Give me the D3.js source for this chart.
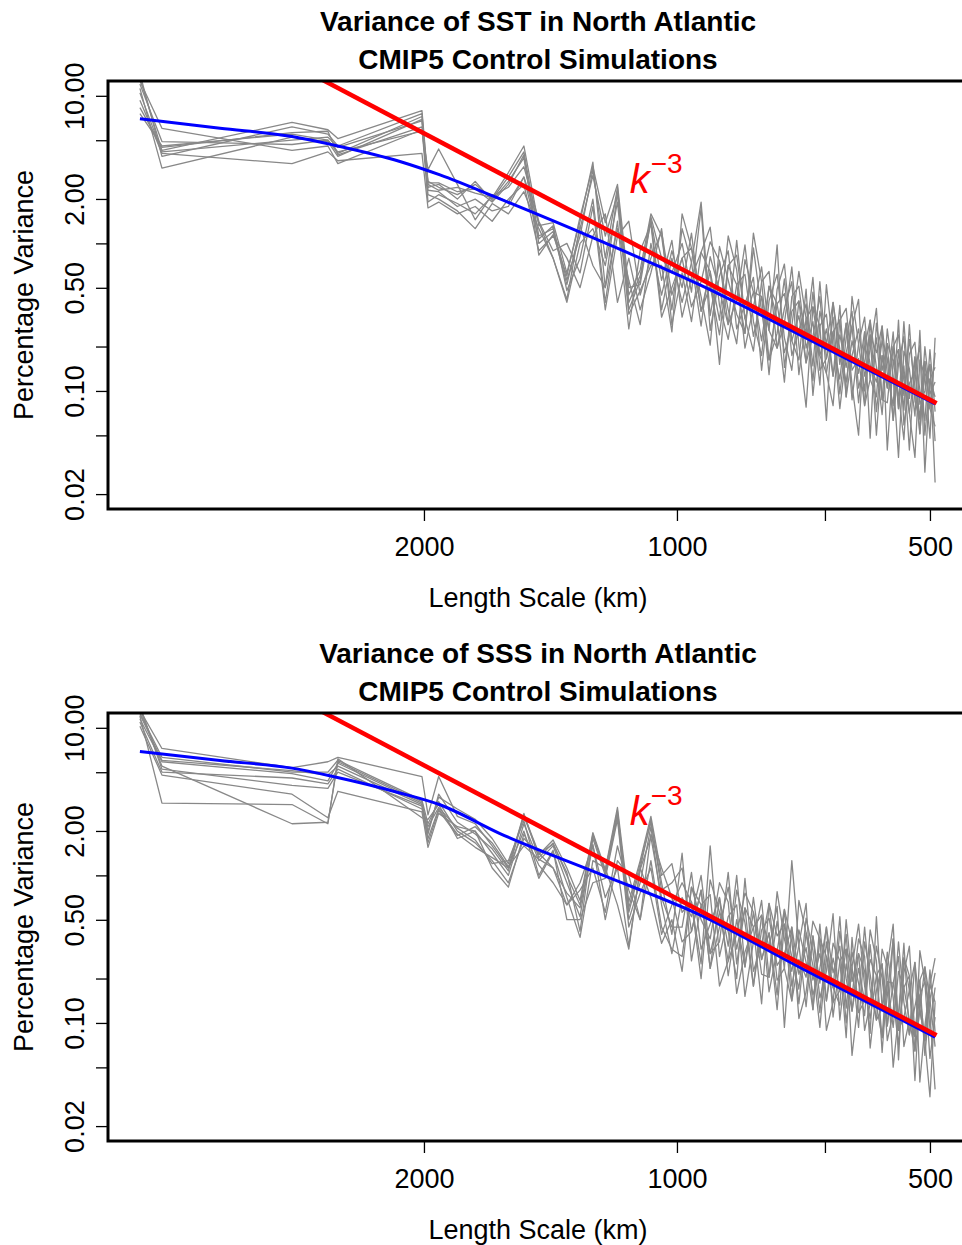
<!DOCTYPE html>
<html>
<head>
<meta charset="utf-8">
<script src="https://cdn.jsdelivr.net/npm/d3@7"></script>
<style>
  html, body { margin: 0; padding: 0; background: #ffffff; }
  svg { display: block; }
  text { font-family: "Liberation Sans", Arial, Helvetica, sans-serif; fill: #000; }
</style>
</head>
<body>
<svg id="chart" width="962" height="1245"></svg>
<script>
// ---------------- DATA ----------------
// Length scale (km) of each spectral estimate (shared by all model curves)
const gridLength = [4355,4100,2871,2602,2532,2011,1978,
  1921,1825,1738,1659,1587,1521,1460,1404,1352,1304,1259,1217,1177,1141,1106,1074,1043,1014,
  986,961,936,913,890,869,849,830,811,793,777,760,745,730,716,702,689,676,664,652,640,629,619,
  608,598,589,579,570,562,553,545,537,529,521,514,507,500,493];

// log10(percentage variance) for each CMIP5 model, SST panel
const sstLog10Var = [
 [1.12,0.63,0.82,0.77,0.71,0.90,0.42, 0.38,0.33,0.40,0.30,0.45,0.62,0.05,0.10,-0.25,0.05,0.50,-0.10,0.38,-0.45,-0.25,0.18,-0.10,-0.20,
  0.00,-0.33,0.24,-0.59,-0.22,-0.05,-0.58,-0.41,-0.23,-0.86,-0.39,-0.21,-0.64,-0.86,-0.39,-0.61,-0.23,-0.86,-0.78,-0.50,-1.02,-0.64,-0.46,-0.98,-0.80,-0.62,-1.30,-0.76,-0.98,-0.60,-1.12,-0.83,-1.40,-0.77,-0.99,-1.20,-0.72,-1.14],
 [1.08,0.69,0.67,0.70,0.61,0.86,0.33, 0.30,0.22,0.10,0.27,0.20,0.35,0.10,-0.10,-0.38,0.12,-0.15,-0.30,0.10,-0.25,-0.55,0.00,-0.35,-0.05,
  -0.30,0.07,-0.46,-0.19,-0.82,-0.15,-0.28,-0.61,-0.03,-0.46,-0.79,-0.41,-0.34,-0.66,-0.79,-0.31,-1.03,-0.56,-0.48,-0.90,-0.62,-0.84,-0.56,-0.38,-1.10,-0.92,-0.64,-1.06,-0.58,-0.90,-1.45,-0.73,-0.85,-1.17,-0.59,-1.30,-0.92,-0.84],
 [1.15,0.59,0.79,0.74,0.66,0.88,0.40, 0.36,0.38,0.34,0.31,0.48,0.66,0.12,0.14,-0.20,0.15,0.55,-0.30,0.35,-0.35,-0.18,0.20,0.05,-0.45,
  0.10,-0.13,-0.56,-0.09,-0.32,-0.55,0.02,-0.51,-0.73,-0.26,-0.19,-0.71,-0.54,-0.16,-0.69,-1.11,-0.43,-0.56,-1.20,-0.40,-0.72,-0.94,-0.66,-0.88,-0.60,-1.32,-0.54,-0.86,-0.68,-1.20,-0.82,-0.63,-1.15,-1.45,-0.79,-0.90,-1.32,-0.64],
 [0.97,0.61,0.54,0.62,0.56,0.61,0.24, 0.28,0.20,0.25,0.15,0.30,0.40,-0.05,0.05,-0.10,-0.30,0.05,0.20,-0.40,-0.10,-0.45,-0.20,0.10,-0.55,
  -0.20,-0.53,-0.06,0.11,-0.42,-0.65,-0.28,-0.21,-0.63,-0.36,-0.59,-0.01,-0.84,-0.46,-0.39,-0.81,-0.63,-0.36,-0.88,-1.10,-0.52,-0.44,-0.86,-0.78,-1.10,-0.62,-0.74,-0.56,-1.40,-0.80,-0.72,-1.03,-0.65,-0.97,-1.29,-0.80,-1.12,-1.24],
 [1.05,0.51,0.72,0.69,0.59,0.84,0.38, 0.40,0.30,0.42,0.29,0.42,0.58,0.00,0.08,-0.28,0.10,0.46,0.05,0.33,-0.40,-0.22,0.15,-0.45,-0.10,
  -0.40,-0.13,0.28,-0.49,-0.12,-0.45,-0.68,-0.11,-0.33,-0.66,-0.29,-0.51,-0.94,-0.36,-0.29,-0.71,-0.53,-0.96,-0.28,-0.70,-0.92,-0.54,-1.06,-0.68,-0.50,-0.92,-1.04,-0.56,-0.88,-1.10,-0.52,-1.23,-0.95,-0.87,-1.19,-0.70,-1.02,-0.94],
 [0.92,0.65,0.75,0.76,0.60,0.79,0.28, 0.33,0.27,0.20,0.32,0.38,0.52,0.15,-0.05,0.00,-0.20,0.25,-0.45,0.05,0.15,-0.35,-0.10,0.08,-0.35,
  -0.10,-0.03,-0.36,-0.69,-0.02,-0.25,-0.48,-0.61,0.07,-0.26,-0.79,-0.61,-0.24,-0.76,-0.59,-0.41,-0.83,-0.26,-0.78,-0.60,-1.12,-0.74,-0.56,-1.08,-0.70,-0.52,-0.84,-1.16,-0.68,-0.80,-1.02,-1.33,-0.75,-0.67,-1.09,-1.00,-0.82,-1.62],
 [1.10,0.78,0.63,0.66,0.54,0.77,0.41, 0.41,0.35,0.37,0.28,0.40,0.60,-0.08,0.06,-0.22,0.18,0.52,0.14,0.40,-0.30,-0.28,0.16,-0.25,0.02,
  -0.50,-0.23,-0.06,-0.19,-0.52,0.05,-0.18,-0.71,-0.43,-0.16,-0.59,-0.71,-0.44,-0.26,-0.89,-0.51,-0.43,-0.76,-0.58,-0.90,-0.42,-1.04,-0.76,-0.58,-0.90,-0.72,-0.44,-1.06,-1.08,-0.70,-0.62,-0.93,-1.15,-0.87,-0.69,-1.55,-0.92,-1.04],
 [1.02,0.62,0.70,0.72,0.65,0.83,0.36, 0.35,0.25,0.30,0.22,0.25,0.45,0.03,0.12,-0.32,-0.10,0.30,-0.40,0.15,-0.58,-0.05,0.13,-0.50,-0.30,
  -0.10,-0.43,-0.26,0.01,-0.12,-0.55,-0.38,-0.01,-0.53,-0.76,-0.29,-0.41,-0.74,-0.56,-0.19,-0.51,-0.93,-0.46,-0.68,-0.40,-0.82,-0.54,-0.96,-1.30,-0.60,-0.82,-0.94,-0.66,-0.78,-1.20,-0.72,-1.13,-0.55,-1.07,-1.19,-0.90,-0.82,-1.34],
 [0.88,0.66,0.74,0.70,0.62,0.76,0.50, 0.64,0.40,0.16,0.33,0.28,0.45,0.14,-0.10,-0.40,0.00,0.10,-0.15,0.28,-0.48,-0.32,-0.15,-0.15,-0.60,
  0.20,-0.03,-0.46,-0.29,-0.62,-0.15,-0.08,-0.51,-0.33,-0.36,-0.89,-0.31,-0.14,-0.66,-0.49,-0.81,-0.33,-0.76,-0.88,-0.60,-0.52,-1.04,-0.36,-0.68,-1.00,-0.52,-1.14,-0.76,-0.98,-0.70,-1.12,-0.53,-1.05,-0.77,-1.29,-0.80,-1.12,-0.74]
];

// log10(percentage variance) for each CMIP5 model, SSS panel
const sssLog10Var = [
 [1.12,0.86,0.73,0.77,0.80,0.67,0.41, 0.67,0.40,0.35,0.20,0.05,0.42,0.12,0.22,0.00,-0.20,0.28,0.02,0.44,-0.25,0.05,0.38,-0.10,-0.05,
  0.05,-0.38,-0.10,-0.63,-0.15,-0.48,0.00,-0.62,-0.25,-0.57,-0.39,-0.81,-0.23,-0.75,-0.47,-0.19,-0.91,-0.43,-0.55,-0.86,-0.78,-0.40,-0.92,-0.63,-0.85,-0.37,-0.58,-1.20,-0.72,-0.73,-0.95,-0.56,-0.68,-1.19,-0.91,-1.12,-0.74,-0.56],
 [1.10,0.80,0.70,0.70,0.78,0.51,0.35, 0.50,0.30,0.22,0.10,-0.05,0.25,0.15,0.05,-0.20,-0.10,0.05,-0.25,0.20,-0.10,-0.30,0.10,-0.35,-0.50,
  -0.55,-0.08,-0.20,-0.53,-0.45,0.02,-0.60,-0.22,-0.75,-0.37,-0.29,-0.61,-0.53,-0.35,-0.97,-0.79,-0.41,-0.73,-0.35,-0.66,-0.48,-1.00,-0.62,-0.33,-0.75,-0.97,-0.68,-0.60,-1.12,-0.93,-0.45,-0.86,-1.08,-0.59,-0.91,-1.12,-1.50,-0.86],
 [1.06,0.77,0.69,0.64,0.76,0.49,0.30, 0.53,0.45,0.38,0.25,0.08,0.40,0.14,0.24,0.05,-0.17,0.29,0.04,0.46,-0.18,0.10,0.40,0.00,0.08,
  -0.25,-0.18,-0.70,-0.03,-0.25,-0.58,-0.40,-0.12,-0.25,-0.67,-0.69,-0.11,-0.43,-0.65,-0.37,-0.59,-0.91,-0.33,-0.85,-0.56,-0.78,-0.50,-0.62,-1.03,-0.45,-0.67,-0.98,-0.90,-0.52,-0.83,-1.15,-0.66,-0.48,-1.09,-0.81,-0.72,-0.94,-1.45],
 [1.15,0.72,0.61,0.59,0.70,0.47,0.25, 0.45,0.28,0.19,0.12,0.05,0.30,-0.02,0.16,-0.15,-0.42,0.10,0.05,-0.20,-0.50,0.05,-0.15,-0.46,-0.30,
  -0.65,-0.08,-0.30,-0.43,-0.05,-0.18,-0.80,-0.52,-0.35,-0.27,-0.79,-0.51,-0.23,-0.45,-0.87,-0.39,-0.61,-1.03,-0.55,-0.76,-0.28,-0.90,-0.52,-0.73,-0.95,-0.47,-0.88,-1.10,-0.62,-0.33,-1.05,-0.96,-0.78,-0.59,-1.40,-1.02,-0.74,-0.86],
 [1.01,0.68,0.55,0.39,0.57,0.43,0.19, 0.42,0.33,0.30,0.15,0.00,0.35,0.10,0.20,-0.05,-0.28,0.25,0.00,0.40,-0.30,-0.05,0.33,-0.20,-0.53,
  -0.15,-0.28,0.00,-0.53,-0.25,-0.38,-0.70,-0.02,-0.65,-0.47,-0.19,-0.71,-0.63,0.10,-0.47,-0.89,-0.41,-0.83,-0.65,-0.26,-0.98,-0.60,-0.82,-0.43,-0.55,-1.17,-0.78,-0.60,-1.02,-0.73,-0.55,-1.16,-0.98,-1.09,-0.71,-0.62,-0.84,-1.16],
 [1.08,0.49,0.48,0.35,0.79,0.39,0.38, 0.48,0.25,0.30,0.05,-0.08,0.28,0.07,-0.05,-0.20,-0.05,0.21,-0.30,0.10,0.00,-0.30,0.28,0.05,-0.15,
  -0.45,-0.38,-0.10,-0.63,-0.35,-0.08,-0.50,-0.22,-0.35,-0.87,-0.19,-0.41,-0.33,-0.85,-0.57,-0.69,-0.31,-0.43,-1.05,-0.86,-0.38,-0.70,-0.92,-0.53,-0.65,-1.07,-0.28,-0.90,-0.72,-1.03,-0.65,-0.76,-0.98,-1.19,-0.51,-0.72,-1.24,-0.96],
 [1.13,0.74,0.35,0.36,0.77,0.50,0.28, 0.55,0.36,0.28,0.18,0.03,0.41,0.15,0.21,0.02,-0.38,0.27,0.03,0.42,-0.22,0.08,0.36,-0.05,-0.40,
  0.15,-0.58,-0.20,-0.13,-0.75,-0.58,-0.10,-0.32,-0.75,-0.27,-0.49,-0.21,-1.03,-0.35,-0.67,-0.49,-0.81,-0.63,-0.35,-0.96,-0.58,-0.50,-1.22,-0.83,-0.35,-0.77,-0.98,-0.50,-0.62,-1.30,-0.95,-0.46,-1.08,-0.89,-0.71,-1.22,-0.84,-0.66],
 [1.04,0.70,0.66,0.62,0.72,0.45,0.33, 0.46,0.32,0.24,0.08,0.10,0.37,0.00,0.17,-0.30,-0.30,-0.05,-0.02,0.38,-0.35,-0.12,0.05,-0.40,-0.20,
  -0.05,-0.18,-0.60,0.20,-0.55,-0.28,-0.20,-0.82,-0.45,-0.17,-0.69,-0.31,-0.63,-0.85,-0.17,-0.39,-0.71,-0.53,-0.85,-0.46,-0.58,-1.10,-0.42,-0.93,-0.85,-0.57,-0.68,-1.10,-0.82,-0.43,-1.05,-0.76,-0.68,-1.39,-0.81,-1.12,-0.64,-1.06],
 [1.09,0.78,0.71,0.68,0.74,0.48,0.22, 0.44,0.27,0.33,0.22,0.06,0.20,0.11,0.05,-0.12,-0.22,0.20,-0.15,0.05,-0.48,0.04,0.26,-0.15,-0.35,
  -0.35,0.02,-0.50,-0.33,-0.15,-0.68,-0.30,-0.62,-0.15,-0.57,-0.39,-0.91,-0.33,-0.55,-0.77,-0.29,-0.51,-0.93,-0.45,-0.76,-0.88,-0.30,-0.72,-0.53,-1.05,-0.87,-0.48,-0.70,-1.02,-0.43,-1.25,-0.56,-0.78,-1.09,-0.91,-0.62,-1.04,-0.76]
];

// Multi-model fit (blue)
const fitLength   = [4355, 3497, 2871, 2566, 2136, 1914, 1624, 1234, 939, 714, 493];
const sstFitValue = [6.98, 6.03, 5.30, 4.65, 3.59, 2.91, 2.00, 1.04, 0.523, 0.240, 0.0817];
const sssFitValue = [6.90, 6.00, 5.33, 4.68, 3.62, 3.01, 1.92, 1.02, 0.54, 0.238, 0.080];

// k^-3 reference line (red), end points
const refLength = [3000, 491];
const refValue  = [18.8, 0.0824];
const refLabelAnchor = [1138, 2.2];   // [length km, variance %]

// Axis ticks
const xTickValues = [2000, 1000, 666.67, 500];
const xTickLabels = ["2000", "1000", "", "500"];
const yTickValues = [10, 5, 2, 1, 0.5, 0.2, 0.1, 0.05, 0.02];
const yTickLabels = ["10.00", "", "2.00", "", "0.50", "", "0.10", "", "0.02"];

const panelTitles = [
  ["Variance of SST in North Atlantic", "CMIP5 Control Simulations"],
  ["Variance of SSS in North Atlantic", "CMIP5 Control Simulations"]
];

// ---------------- DRAW ----------------
const svg = d3.select("#chart");
const PL = 108, PR = 968, PT = 81, PB = 509;
const panelOffsets = [0, 632];
const panelModels = [sstLog10Var, sssLog10Var];
const panelFits = [sstFitValue, sssFitValue];

panelOffsets.forEach((off, pi) => {
  const g = svg.append("g").attr("transform", `translate(0,${off})`);
  const x = d3.scaleLog().domain([4753, 450.5]).range([PL, PR]);
  const y = d3.scaleLog().domain([0.01585, 12.6]).range([PB, PT]);

  const clipId = "clip" + pi;
  g.append("clipPath").attr("id", clipId)
    .append("rect").attr("x", PL).attr("y", PT).attr("width", PR - PL).attr("height", PB - PT);

  const line = d3.line().x(d => x(d[0])).y(d => y(d[1]));
  const plot = g.append("g").attr("clip-path", `url(#${clipId})`);

  // model curves
  panelModels[pi].forEach(row => {
    const pts = gridLength.map((L, j) => [L, Math.pow(10, row[j])]);
    plot.append("path").datum(pts)
      .attr("d", line)
      .attr("fill", "none")
      .attr("stroke", "#888888")
      .attr("stroke-width", 1.3)
      .attr("stroke-linejoin", "round");
  });

  // fit (blue)
  const fitPts = fitLength.map((L, j) => [L, panelFits[pi][j]]);
  plot.append("path").datum(fitPts)
    .attr("d", d3.line().x(d => x(d[0])).y(d => y(d[1])).curve(d3.curveMonotoneX))
    .attr("fill", "none").attr("stroke", "#0000FF").attr("stroke-width", 3);

  // k^-3 (red)
  const refPts = refLength.map((L, j) => [L, refValue[j]]);
  plot.append("path").datum(refPts)
    .attr("d", line)
    .attr("fill", "none").attr("stroke", "#FF0000").attr("stroke-width", 4.5);

  // k^-3 label
  const lab = g.append("text")
    .attr("x", x(refLabelAnchor[0])).attr("y", y(refLabelAnchor[1]))
    .style("fill", "#FF0000");
  lab.append("tspan").attr("font-style", "italic").attr("font-size", 40).text("k");
  lab.append("tspan").attr("font-size", 28).attr("dy", -20).attr("dx", 1).text("\u22123");

  // axes
  const yAxis = d3.axisLeft(y).tickValues(yTickValues).tickSize(12)
    .tickFormat((d, i) => yTickLabels[i]);
  const ya = g.append("g").attr("transform", `translate(${PL},0)`).call(yAxis);
  ya.select(".domain").remove();
  ya.selectAll(".tick line").attr("stroke", "#000").attr("stroke-width", 1.3);
  ya.selectAll(".tick text")
    .attr("x", null).attr("dy", null)
    .attr("text-anchor", "middle")
    .attr("transform", "translate(-24,0) rotate(-90)")
    .attr("font-size", 27)
    .attr("font-family", "Liberation Sans, Arial, sans-serif")
    .style("fill", "#000");

  const xAxis = d3.axisBottom(x).tickValues(xTickValues).tickSize(12)
    .tickFormat((d, i) => xTickLabels[i]);
  const xa = g.append("g").attr("transform", `translate(0,${PB})`).call(xAxis);
  xa.select(".domain").remove();
  xa.selectAll(".tick line").attr("stroke", "#000").attr("stroke-width", 1.3);
  xa.selectAll(".tick text")
    .attr("y", 47).attr("dy", null)
    .attr("font-size", 27)
    .attr("font-family", "Liberation Sans, Arial, sans-serif")
    .style("fill", "#000");

  // frame
  g.append("rect").attr("x", PL).attr("y", PT).attr("width", PR - PL).attr("height", PB - PT)
    .attr("fill", "none").attr("stroke", "#000").attr("stroke-width", 3);

  // titles
  const cx = (PL + PR) / 2;
  g.append("text").attr("x", cx).attr("y", 31).attr("text-anchor", "middle")
    .attr("font-size", 28).attr("font-weight", "bold").text(panelTitles[pi][0]);
  g.append("text").attr("x", cx).attr("y", 69).attr("text-anchor", "middle")
    .attr("font-size", 28).attr("font-weight", "bold").text(panelTitles[pi][1]);

  // axis titles
  g.append("text").attr("x", cx).attr("y", 607).attr("text-anchor", "middle")
    .attr("font-size", 27).text("Length Scale (km)");
  g.append("text").attr("transform", `translate(33,${(PT + PB) / 2}) rotate(-90)`)
    .attr("text-anchor", "middle").attr("font-size", 27).text("Percentage Variance");
});
</script>
</body>
</html>
